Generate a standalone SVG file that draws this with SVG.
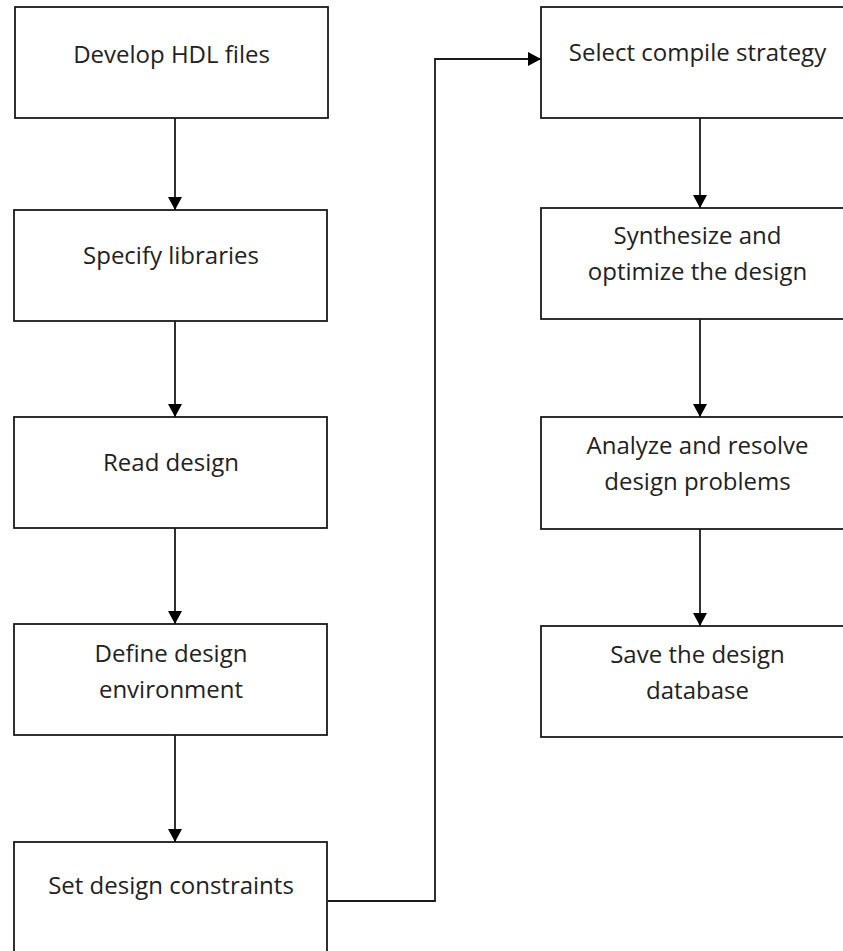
<svg xmlns="http://www.w3.org/2000/svg" width="843" height="951" viewBox="0 0 843 951">
  <style>
    .box { fill: #ffffff; stroke: #1a1a1a; stroke-width: 1.8; }
    .lbl { font-family: "Open Sans", "Noto Sans", sans-serif; font-size: 24px; fill: #222222; text-anchor: middle; }
    .wire { fill: none; stroke: #1a1a1a; stroke-width: 1.8; }
  </style>
  <defs>
    <marker id="arrow" markerWidth="14" markerHeight="14" refX="13" refY="7" orient="auto" markerUnits="userSpaceOnUse">
      <path d="M0,0 L13,7 L0,14 Z" fill="#000000"/>
    </marker>
  </defs>
  <rect width="843" height="951" fill="#ffffff"/>

  <!-- left column -->
  <g id="develop-hdl">
    <rect class="box" x="15" y="7" width="313" height="111"/>
    <text class="lbl" x="171.5" y="63">Develop HDL files</text>
  </g>
  <g id="specify-libraries">
    <rect class="box" x="14" y="210" width="313" height="111"/>
    <text class="lbl" x="171" y="264">Specify libraries</text>
  </g>
  <g id="read-design">
    <rect class="box" x="14" y="417" width="313" height="111"/>
    <text class="lbl" x="171" y="471">Read design</text>
  </g>
  <g id="define-environment">
    <rect class="box" x="14" y="624" width="313" height="111"/>
    <text class="lbl" x="171" y="662">Define design</text>
    <text class="lbl" x="171" y="698">environment</text>
  </g>
  <g id="set-constraints">
    <rect class="box" x="14" y="842" width="313" height="130"/>
    <text class="lbl" x="171" y="894">Set design constraints</text>
  </g>

  <!-- right column -->
  <g id="select-strategy">
    <rect class="box" x="541" y="7" width="313" height="111"/>
    <text class="lbl" x="697.5" y="61">Select compile strategy</text>
  </g>
  <g id="synthesize">
    <rect class="box" x="541" y="208" width="313" height="111"/>
    <text class="lbl" x="697.5" y="244">Synthesize and</text>
    <text class="lbl" x="697.5" y="280">optimize the design</text>
  </g>
  <g id="analyze">
    <rect class="box" x="541" y="417" width="313" height="112"/>
    <text class="lbl" x="697.5" y="454">Analyze and resolve</text>
    <text class="lbl" x="697.5" y="490">design problems</text>
  </g>
  <g id="save-database">
    <rect class="box" x="541" y="626" width="313" height="111"/>
    <text class="lbl" x="697.5" y="663">Save the design</text>
    <text class="lbl" x="697.5" y="699">database</text>
  </g>

  <!-- connectors -->
  <g id="connectors">
    <line class="wire" x1="175" y1="118" x2="175" y2="210" marker-end="url(#arrow)"/>
    <line class="wire" x1="175" y1="321" x2="175" y2="417" marker-end="url(#arrow)"/>
    <line class="wire" x1="175" y1="528" x2="175" y2="624" marker-end="url(#arrow)"/>
    <line class="wire" x1="175" y1="735" x2="175" y2="842" marker-end="url(#arrow)"/>
    <path class="wire" d="M328,901 H435 V59 H541" marker-end="url(#arrow)"/>
    <line class="wire" x1="700" y1="118" x2="700" y2="208" marker-end="url(#arrow)"/>
    <line class="wire" x1="700" y1="319" x2="700" y2="417" marker-end="url(#arrow)"/>
    <line class="wire" x1="700" y1="529" x2="700" y2="626" marker-end="url(#arrow)"/>
  </g>
</svg>
